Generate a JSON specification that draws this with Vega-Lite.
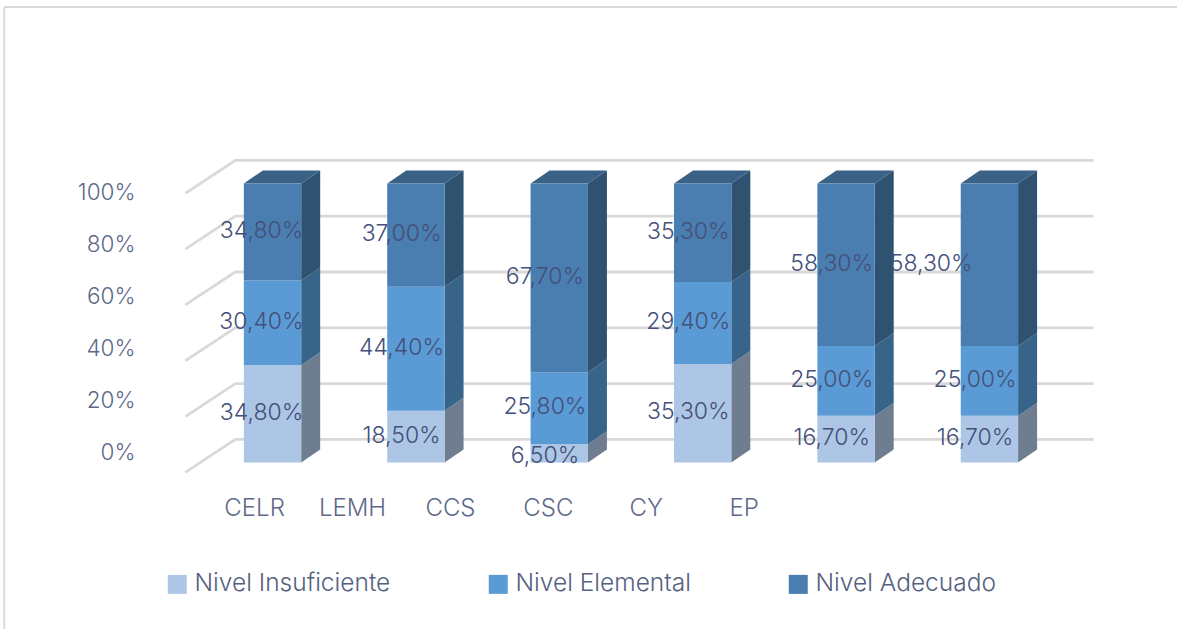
{
"$schema":"https://vega.github.io/schema/vega-lite/v6.json",
"width":1178,"height":630,"padding":0,
"autosize":{"type":"fit","contains":"padding"},
"background":"#ffffff",
"view":{"stroke":null},
"config":{"text":{"font":"Inter","fontWeight":300}},
"datasets":{
"bars":[
{"cat":"CELR","level":"Nivel Insuficiente","value":34.8},{"cat":"CELR","level":"Nivel Elemental","value":30.4},{"cat":"CELR","level":"Nivel Adecuado","value":34.8},
{"cat":"LEMH","level":"Nivel Insuficiente","value":18.5},{"cat":"LEMH","level":"Nivel Elemental","value":44.4},{"cat":"LEMH","level":"Nivel Adecuado","value":37.0},
{"cat":"CCS","level":"Nivel Insuficiente","value":6.5},{"cat":"CCS","level":"Nivel Elemental","value":25.8},{"cat":"CCS","level":"Nivel Adecuado","value":67.7},
{"cat":"CSC","level":"Nivel Insuficiente","value":35.3},{"cat":"CSC","level":"Nivel Elemental","value":29.4},{"cat":"CSC","level":"Nivel Adecuado","value":35.3},
{"cat":"CY","level":"Nivel Insuficiente","value":16.7},{"cat":"CY","level":"Nivel Elemental","value":25.0},{"cat":"CY","level":"Nivel Adecuado","value":58.3},
{"cat":"EP","level":"Nivel Insuficiente","value":16.7},{"cat":"EP","level":"Nivel Elemental","value":25.0},{"cat":"EP","level":"Nivel Adecuado","value":58.3}
],
"ticks":[{"v":0},{"v":0.2},{"v":0.4},{"v":0.6},{"v":0.8},{"v":1}],
"cats":[{"cat":"CELR"},{"cat":"LEMH"},{"cat":"CCS"},{"cat":"CSC"},{"cat":"CY"},{"cat":"EP"}]
},
"resolve":{"scale":{"color":"independent"}},
"layer":[
{"data":{"values":[{"a":1}]},"mark":{"type":"rule","color":"#D9D9D9","strokeWidth":2},
 "encoding":{"x":{"datum":-1.871,"type":"quantitative","scale":{"domain":[-1.9007,6.3083],"nice":false,"zero":false},"axis":null},"x2":{"datum":6.3083},"y":{"datum":1.6317,"type":"quantitative","scale":{"domain":[-0.5968,1.6572],"nice":false,"zero":false},"axis":null}}},
{"data":{"values":[{"a":1}]},"mark":{"type":"rule","color":"#D9D9D9","strokeWidth":2},
 "encoding":{"x":{"datum":-1.871,"type":"quantitative"},"y":{"datum":1.6317,"type":"quantitative"},"y2":{"datum":-0.5968}}},
{"data":{"name":"ticks"},
 "transform":[{"calculate":"[0,1,2]","as":"t"},{"flatten":["t"]},
  {"calculate":"datum.t==0?-0.608:datum.t==1?-0.2596:5.727","as":"gx"},
  {"calculate":"datum.v+0.0825-(datum.t==0?0.118:0)","as":"gy"}],
 "mark":{"type":"line","color":"#D9D9D9","strokeWidth":2.8},
 "encoding":{"x":{"field":"gx","type":"quantitative"},"y":{"field":"gy","type":"quantitative"},"detail":{"field":"v"},"order":{"field":"t"}}},
{"data":{"name":"bars"},
 "transform":[
  {"calculate":"indexof(['Nivel Insuficiente','Nivel Elemental','Nivel Adecuado'],datum.level)","as":"ord"},
  {"stack":"value","groupby":["cat"],"sort":[{"field":"ord","order":"ascending"}],"offset":"normalize","as":["v0","v1"]},
  {"calculate":"indexof(['CELR','LEMH','CCS','CSC','CY','EP'],datum.cat)","as":"i"},
  {"calculate":"[0,1]","as":"t"},{"flatten":["t"]},
  {"calculate":"datum.i+0.2+datum.t*0.1324","as":"sx"},
  {"calculate":"datum.v0+datum.t*0.0465","as":"sy0"},
  {"calculate":"datum.v1+datum.t*0.0465","as":"sy1"}],
 "mark":{"type":"area","orient":"vertical"},
 "encoding":{"x":{"field":"sx","type":"quantitative"},"y":{"field":"sy0","type":"quantitative","stack":null},"y2":{"field":"sy1"},
  "color":{"field":"level","type":"nominal","legend":null,"scale":{"domain":["Nivel Insuficiente","Nivel Elemental","Nivel Adecuado"],"range":["#6E7E90","#39648A","#2E526F"]}},
  "detail":{"field":"cat"}}},
{"data":{"name":"bars"},
 "transform":[
  {"filter":"datum.level=='Nivel Adecuado'"},
  {"calculate":"indexof(['CELR','LEMH','CCS','CSC','CY','EP'],datum.cat)","as":"i"},
  {"calculate":"[0,1]","as":"t"},{"flatten":["t"]},
  {"calculate":"datum.i-0.2+datum.t*0.1324","as":"tx0"},
  {"calculate":"datum.i+0.2+datum.t*0.1324","as":"tx1"},
  {"calculate":"1+datum.t*0.0465","as":"ty"}],
 "mark":{"type":"area","orient":"horizontal","color":"#3A6186"},
 "encoding":{"y":{"field":"ty","type":"quantitative","stack":null},"x":{"field":"tx0","type":"quantitative","stack":null},"x2":{"field":"tx1"},"detail":{"field":"cat"}}},
{"data":{"name":"bars"},
 "transform":[
  {"calculate":"indexof(['Nivel Insuficiente','Nivel Elemental','Nivel Adecuado'],datum.level)","as":"ord"},
  {"stack":"value","groupby":["cat"],"sort":[{"field":"ord","order":"ascending"}],"offset":"normalize","as":["v0","v1"]},
  {"calculate":"indexof(['CELR','LEMH','CCS','CSC','CY','EP'],datum.cat)","as":"i"},
  {"calculate":"datum.i-0.2","as":"fx0"},{"calculate":"datum.i+0.2","as":"fx1"}],
 "mark":{"type":"rect"},
 "encoding":{"x":{"field":"fx0","type":"quantitative"},"x2":{"field":"fx1"},"y":{"field":"v0","type":"quantitative"},"y2":{"field":"v1"},
  "color":{"field":"level","type":"nominal","scale":{"domain":["Nivel Insuficiente","Nivel Elemental","Nivel Adecuado"],"range":["#ADC6E5","#5B9BD5","#4A7EB0"]},
   "legend":{"title":null,"orient":"none","legendX":165,"legendY":572,"direction":"horizontal","columns":3,"columnPadding":95,"symbolType":"square","symbolSize":361,"symbolStrokeWidth":0,"labelFont":"Inter","labelFontWeight":300,"labelFontSize":24.5,"labelColor":"#55617F","labelOffset":5,"labelLimit":300}}}},
{"data":{"name":"bars"},
 "transform":[
  {"calculate":"indexof(['Nivel Insuficiente','Nivel Elemental','Nivel Adecuado'],datum.level)","as":"ord"},
  {"stack":"value","groupby":["cat"],"sort":[{"field":"ord","order":"ascending"}],"offset":"normalize","as":["v0","v1"]},
  {"calculate":"indexof(['CELR','LEMH','CCS','CSC','CY','EP'],datum.cat)","as":"i"},
  {"calculate":"datum.i-(datum.cat=='CELR'?0.077:0.1)-(datum.cat=='EP'&&datum.level=='Nivel Adecuado'?0.306:0)","as":"lx"},
  {"calculate":"(datum.v0+datum.v1)/2+(datum.value<7?-0.011:0.004)","as":"ly"},
  {"calculate":"replace(format(datum.value,'.2f'),'.',',')+'%'","as":"lab"}],
 "mark":{"type":"text","fontSize":23,"color":"#44507A","align":"center","baseline":"middle"},
 "encoding":{"x":{"field":"lx","type":"quantitative"},"y":{"field":"ly","type":"quantitative"},"text":{"field":"lab"}}},
{"data":{"name":"ticks"},
 "transform":[{"calculate":"0.0346+0.93*datum.v","as":"ly"},{"calculate":"format(datum.v*100,'d')+'%'","as":"lab"}],
 "mark":{"type":"text","fontSize":22.5,"color":"#5F6A8A","align":"right","baseline":"middle"},
 "encoding":{"x":{"datum":-0.955,"type":"quantitative"},"y":{"field":"ly","type":"quantitative"},"text":{"field":"lab"}}},
{"data":{"name":"cats"},
 "transform":[{"calculate":"indexof(['CELR','LEMH','CCS','CSC','CY','EP'],datum.cat)","as":"i"},{"calculate":"-0.125+0.683*datum.i","as":"lx"},{"calculate":"-0.168","as":"ly"}],
 "mark":{"type":"text","fontSize":24,"color":"#5F6A8A","align":"center","baseline":"middle"},
 "encoding":{"x":{"field":"lx","type":"quantitative"},"y":{"field":"ly","type":"quantitative"},"text":{"field":"cat"}}}
]
}
